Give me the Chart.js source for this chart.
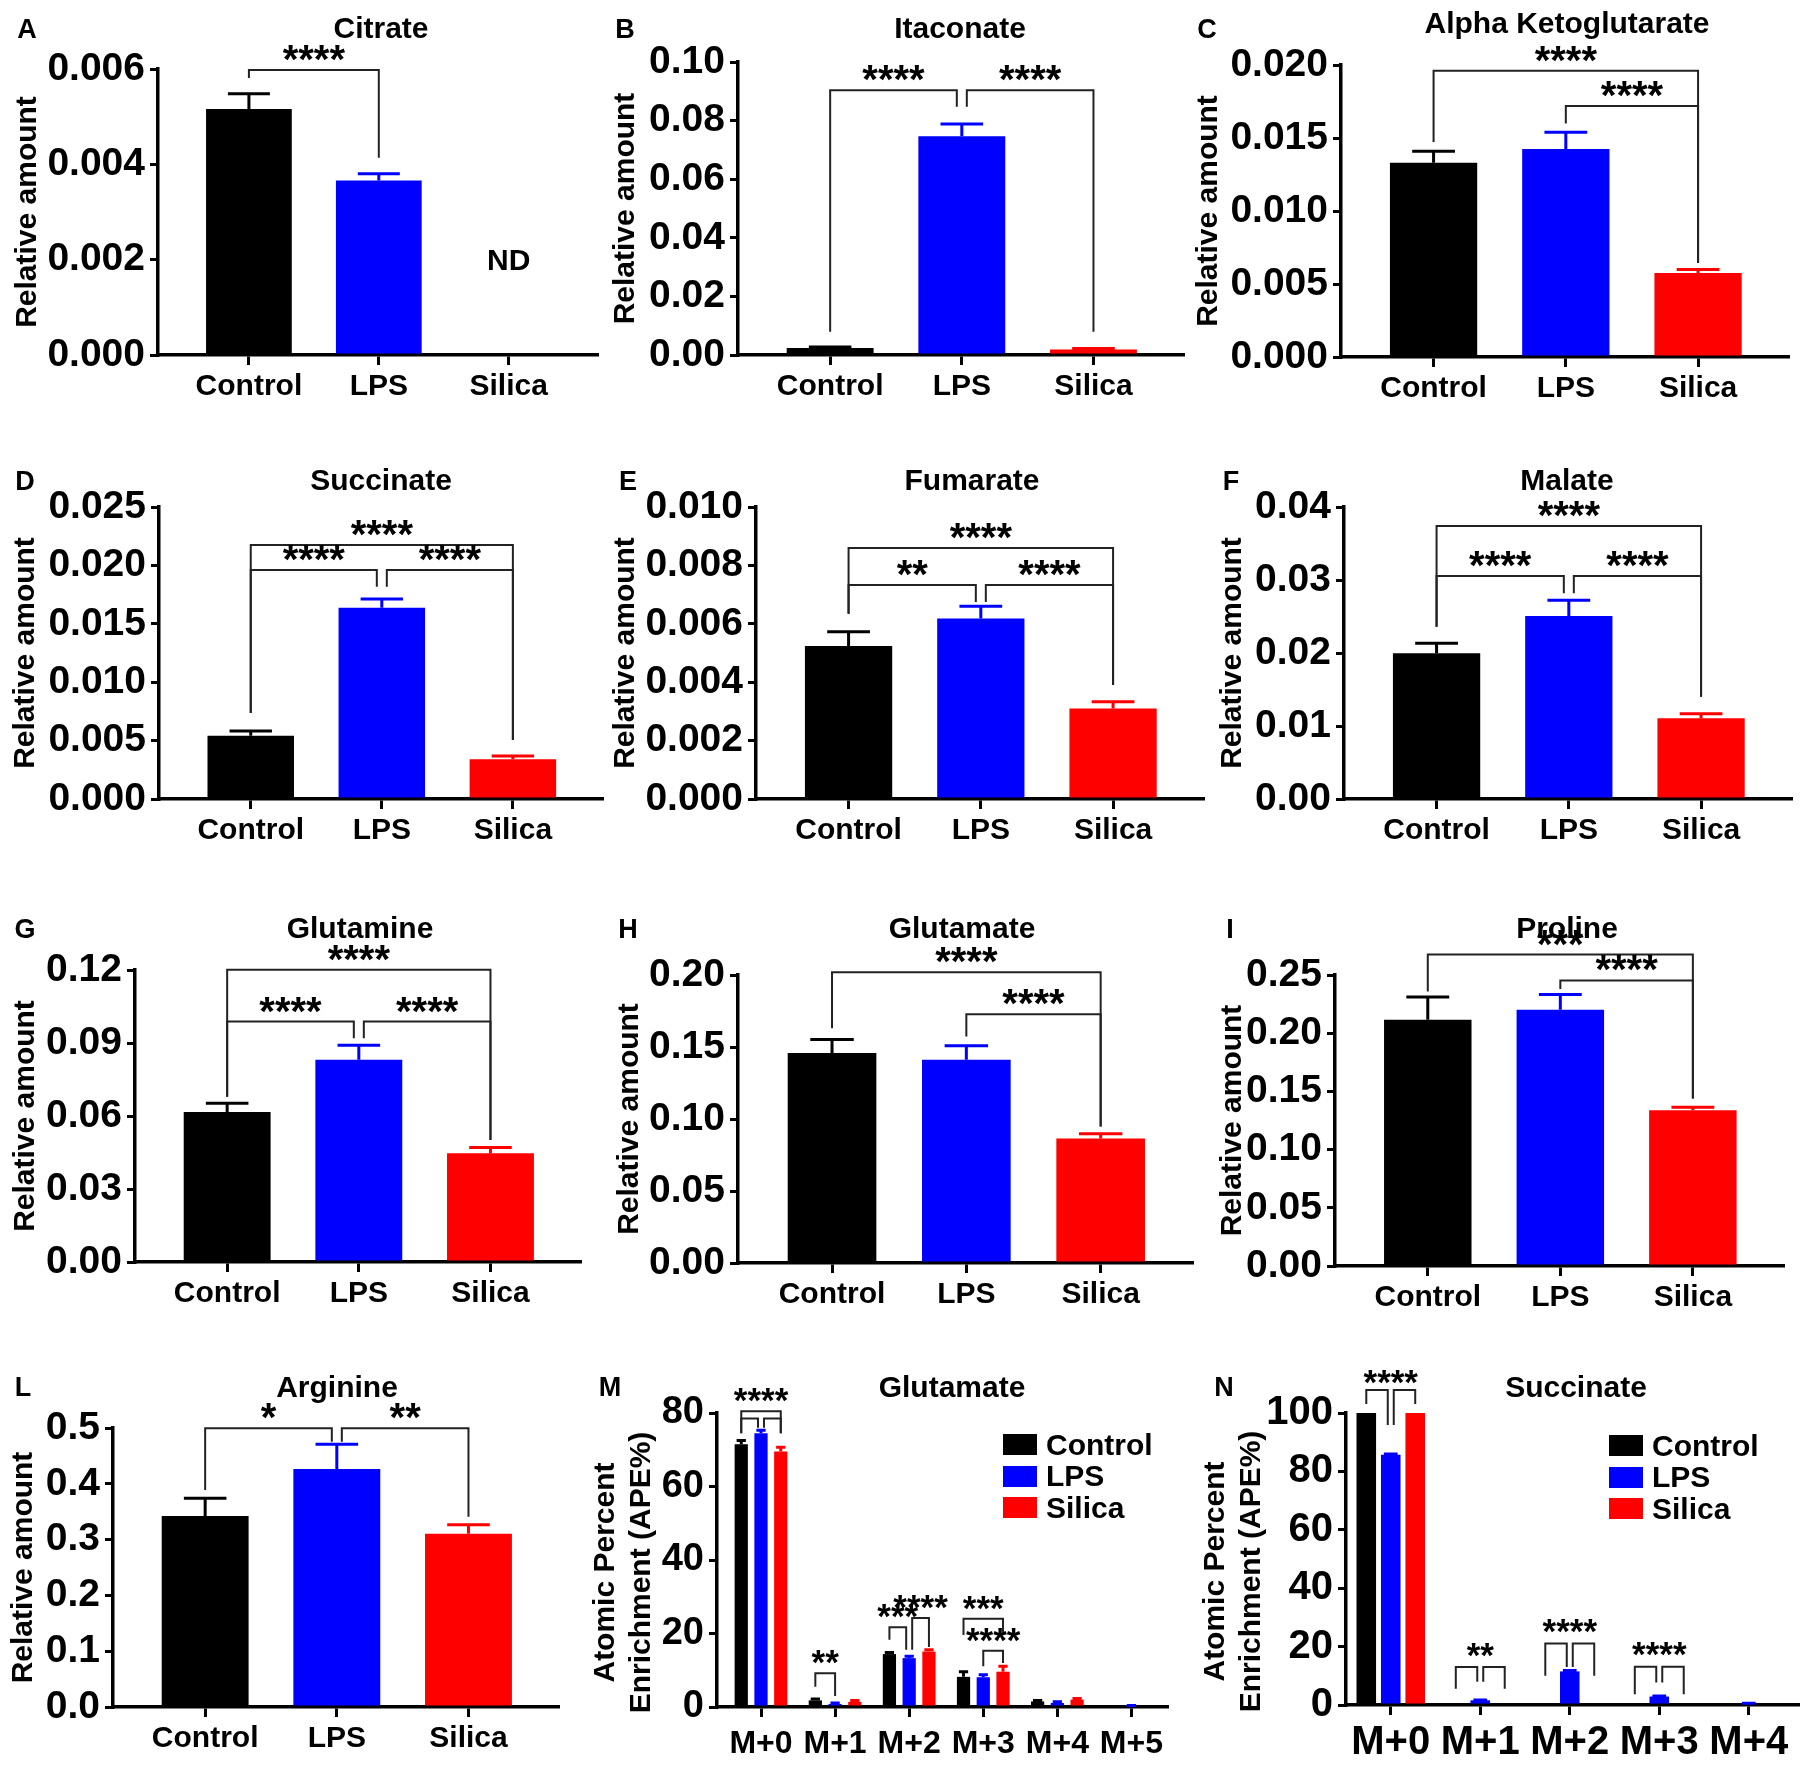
<!DOCTYPE html>
<html lang="en">
<head>
<meta charset="UTF-8" />
<title>Metabolites</title>
<script src="https://cdn.jsdelivr.net/npm/chart.js"></script>
<style>
  body { margin:0; width:1800px; height:1767px; position:relative; overflow:hidden; background:#fff;
         font-family:'Liberation Sans', Arial, Helvetica, sans-serif; color:#000; }
  canvas { position:absolute; }
  .lbl { position:absolute; font-weight:bold; transform:translate(-50%,-50%); white-space:nowrap; line-height:1; }
  .letter { font-size:27px; }
  .ttl { font-size:30px; }
  .legend { position:absolute; font-weight:bold; font-size:30px; line-height:1; }
  .legend div { display:flex; align-items:center; height:31.5px; }
  .legend .box { display:inline-block; width:34px; height:21px; margin-right:9px; }
</style>
</head>
<body>
<script>
// ---- data ----
const groups = ['Control', 'LPS', 'Silica'];
const gluIso = ['M+0', 'M+1', 'M+2', 'M+3', 'M+4', 'M+5'];
const sucIso = ['M+0', 'M+1', 'M+2', 'M+3', 'M+4'];

// brackets: [from, to, line y, left leg end, right leg end, stars]
const citrate = [0.00516, 0.00366, 0];
const citrateSem = [0.00032, 0.00014, 0];
const citrateSig = [[0, 1, 0.00598, 0.00581, 0.00414, '****']];
const citrateNotes = [[2, 0.002, 'ND']];

const itaconate = [0.0024, 0.0747, 0.0019];
const itaconateSem = [0.0003, 0.0041, 0.0003];
const itaconateSig = [[0, 1, 0.0904, 0.0079, 0.0847, '****'], [1, 2, 0.0904, 0.0847, 0.0079, '****']];

const akg = [0.0133, 0.01425, 0.00575];
const akgSem = [0.0008, 0.00115, 0.00025];
const akgSig = [[0, 2, 0.0196, 0.01473, 0.00644, '****'], [1, 2, 0.0172, 0.0160, 0.00644, '****']];

const succinate = [0.00542, 0.01638, 0.0034];
const succinateSem = [0.0004, 0.00074, 0.00028];
const succinateSig = [[0, 2, 0.02175, 0.00736, 0.00505, '****'], [0, 1, 0.0196, 0.00736, 0.01818, '****'], [1, 2, 0.0196, 0.01818, 0.00505, '****']];

const fumarate = [0.00524, 0.00618, 0.0031];
const fumarateSem = [0.00049, 0.00042, 0.00023];
const fumarateSig = [[0, 2, 0.0086, 0.00634, 0.0039, '****'], [0, 1, 0.00733, 0.00634, 0.00675, '**'], [1, 2, 0.00733, 0.00675, 0.0039, '****']];

const malate = [0.01996, 0.02507, 0.01105];
const malateSem = [0.00137, 0.00214, 0.00064];
const malateSig = [[0, 2, 0.0374, 0.0236, 0.014, '****'], [0, 1, 0.03055, 0.0236, 0.02818, '****'], [1, 2, 0.03055, 0.02818, 0.014, '****']];

const glutamine = [0.0616, 0.0831, 0.0447];
const glutamineSem = [0.0036, 0.006, 0.0024];
const glutamineSig = [[0, 2, 0.1201, 0.0679, 0.0501, '****'], [0, 1, 0.0988, 0.0679, 0.092, '****'], [1, 2, 0.0988, 0.092, 0.0501, '****']];

const glutamate = [0.1459, 0.1411, 0.0865];
const glutamateSem = [0.0093, 0.0097, 0.0032];
const glutamateSig = [[0, 2, 0.2019, 0.163, 0.0948, '****'], [1, 2, 0.1728, 0.1573, 0.0948, '****']];

const proline = [0.2116, 0.2202, 0.1338];
const prolineSem = [0.0194, 0.0131, 0.0026];
const prolineSig = [[0, 2, 0.2676, 0.2358, 0.1438, '***'], [1, 2, 0.2453, 0.238, 0.1438, '****']];

const arginine = [0.3423, 0.4265, 0.3106];
const arginineSem = [0.0317, 0.0443, 0.0162];
const arginineSig = [[0, 1, 0.4995, 0.389, 0.4755, '*'], [1, 2, 0.4995, 0.4755, 0.341, '**']];

// isotopologue brackets: [category, from series, to series, line y, left leg end, right leg end, stars]
const gluApeControl = [71.5, 1.8, 14.4, 8.2, 1.5, 0];
const gluApeLps = [74.5, 0.8, 13.3, 8.1, 1.1, 0.3];
const gluApeSilica = [69.5, 1.4, 15.1, 9.6, 2.0, 0];
const gluApeControlSem = [1.0, 0.4, 0.4, 1.4, 0.3, 0];
const gluApeLpsSem = [0.8, 0.3, 0.5, 0.7, 0.3, 0.1];
const gluApeSilicaSem = [1.2, 0.4, 0.5, 1.5, 0.3, 0];
const gluApeSig = [[0, 0, 2, 80.5, 74.5, 74.5, '****'], [0, 0, 1, 78.5, 74.5, 76, ''], [0, 1, 2, 78.5, 76, 74.5, ''],
  [1, 0, 1, 9.2, 5.5, 3.0, '**'], [2, 0, 1, 21.7, 18.3, 15.6, '***'], [2, 1, 2, 24.2, 15.6, 16.3, '****'],
  [3, 0, 2, 24.0, 19.6, 19.6, '***'], [3, 1, 2, 15.3, 11.1, 12.0, '****']];

const sucApeControl = [100, 0, 0, 0, 0];
const sucApeLps = [85.7, 1.6, 11.5, 2.9, 0.5];
const sucApeSilica = [100, 0, 0, 0, 0];
const sucApeControlSem = [0, 0, 0, 0, 0];
const sucApeLpsSem = [0.3, 0.1, 0.3, 0.2, 0.1];
const sucApeSilicaSem = [0, 0, 0, 0, 0];
const sucApeSig = [[0, 0, 1, 107.9, 103.1, 95.9, ''], [0, 1, 2, 107.9, 95.9, 103.1, ''],
  [1, 0, 1, 13, 5.6, 8, ''], [1, 1, 2, 13, 8, 5.6, ''], [2, 0, 1, 21.1, 10, 13, ''], [2, 1, 2, 21.1, 13, 10, ''],
  [3, 0, 1, 13.1, 3.7, 7.7, ''], [3, 1, 2, 13.1, 7.7, 3.7, '']];
const sucApeNotes = [[0, 1, 112.4, '****'], [1, 1, 18.9, '**'], [2, 1, 27.2, '****'], [3, 1, 19.2, '****']];

// ---- style ----
const FAM = "'Liberation Sans', Arial, Helvetica, sans-serif";
const colors = ['#000000', '#0000ff', '#ff0000'];
Chart.defaults.font.family = FAM;
Chart.defaults.color = '#000';

function same(a, b) { return a[0] === b[0] && a[1] === b[1]; }

function sigPlugin(brackets, notes, starPx, off, capRatio) {
  return {
    id: 'sig',
    afterDatasetsDraw(chart) {
      const ctx = chart.ctx, ys = chart.scales.y;
      chart.data.datasets.forEach((ds, d) => {
        chart.getDatasetMeta(d).data.forEach((bar, i) => {
          const e = ds.sem[i], v = ds.data[i].y;
          if (!e || !v) return;
          const top = ys.getPixelForValue(v + e);
          const cap = bar.width * capRatio;
          ctx.save();
          ctx.strokeStyle = Array.isArray(ds.backgroundColor) ? ds.backgroundColor[i] : ds.backgroundColor;
          ctx.lineWidth = 3;
          ctx.beginPath();
          ctx.moveTo(bar.x, bar.y); ctx.lineTo(bar.x, top);
          ctx.moveTo(bar.x - cap / 2, top); ctx.lineTo(bar.x + cap / 2, top);
          ctx.stroke();
          ctx.restore();
        });
      });
    },
    afterDraw(chart) {
      const ctx = chart.ctx, ys = chart.scales.y;
      const px = p => chart.getDatasetMeta(p[0]).data[p[1]].x;
      ctx.save();
      ctx.strokeStyle = '#222';
      ctx.lineWidth = 2;
      ctx.fillStyle = '#000';
      ctx.textAlign = 'center';
      brackets.forEach(b => {
        let x1 = px(b.p), x2 = px(b.q);
        if (brackets.some(o => o !== b && same(o.q, b.p))) x1 += off;
        if (brackets.some(o => o !== b && same(o.p, b.q))) x2 -= off;
        const yl = ys.getPixelForValue(b.y);
        ctx.beginPath();
        ctx.moveTo(x1, ys.getPixelForValue(b.l));
        ctx.lineTo(x1, yl); ctx.lineTo(x2, yl);
        ctx.lineTo(x2, ys.getPixelForValue(b.r));
        ctx.stroke();
        if (b.t) {
          ctx.font = 'bold ' + starPx + 'px ' + FAM;
          const m = ctx.measureText(b.t);
          ctx.fillText(b.t, (x1 + x2) / 2, yl - 9 - m.actualBoundingBoxDescent);
        }
      });
      notes.forEach(n => {
        ctx.font = /^\*+$/.test(n.t) ? 'bold ' + starPx + 'px ' + FAM : 'bold 30px ' + FAM;
        const m = ctx.measureText(n.t);
        const yc = ys.getPixelForValue(n.y);
        ctx.fillText(n.t, px(n.p), yc + (m.actualBoundingBoxAscent - m.actualBoundingBoxDescent) / 2);
      });
      ctx.restore();
    }
  };
}

function addLabel(cls, text, x, y) {
  const d = document.createElement('div');
  d.className = 'lbl ' + cls;
  d.textContent = text;
  d.style.left = x + 'px';
  d.style.top = y + 'px';
  document.body.appendChild(d);
}

function buildPanel(P) {
  const PT = 70, PR = 6, XH = 70;
  const L = P.L;
  const yw = L.ax - L.tx + 18;
  const w = yw + (L.end - L.ax) + PR, h = PT + (L.bot - L.top) + XH;
  const cv = document.createElement('canvas');
  cv.width = w; cv.height = h;
  cv.style.left = (L.ax - yw) + 'px';
  cv.style.top = (L.top - PT) + 'px';
  cv.style.width = w + 'px'; cv.style.height = h + 'px';
  document.body.appendChild(cv);
  addLabel('letter', P.letter, L.lx, L.ly);
  addLabel('ttl', P.title, L.ttx, L.tty);

  new Chart(cv, {
    type: 'bar',
    data: { datasets: P.datasets },
    options: {
      responsive: false,
      animation: false,
      layout: { padding: { top: PT, right: PR, left: 0, bottom: 0 } },
      plugins: { legend: { display: false }, tooltip: { enabled: false } },
      scales: {
        x: {
          type: 'linear', min: P.xr[0], max: P.xr[1], offset: false,
          afterBuildTicks: s => { s.ticks = P.cats.map((c, i) => ({ value: i })); },
          afterFit: s => { s.height = XH; },
          grid: { display: true, offset: false, drawOnChartArea: false, drawTicks: true, tickLength: 10, color: '#000', lineWidth: 3 },
          border: { display: true, color: '#000', width: 3.5 },
          ticks: { callback: v => P.cats[v], autoSkip: false, maxRotation: 0, padding: P.xPad, color: '#000',
                   font: { size: P.xFont, weight: 'bold' } }
        },
        y: {
          min: 0, max: P.max,
          afterFit: s => { s.width = yw; },
          grid: { drawOnChartArea: false, drawTicks: true, tickLength: 8, color: '#000', lineWidth: 3 },
          border: { display: true, color: '#000', width: 3.5 },
          ticks: { stepSize: P.step, callback: v => v.toFixed(P.dec), padding: 5, color: '#000',
                   font: { size: P.yFont, weight: 'bold' } },
          title: { display: true, text: P.yTitle, color: '#000', padding: 0, font: { size: 30, weight: 'bold' } }
        }
      }
    },
    plugins: [sigPlugin(P.brackets, P.notes, P.starPx, P.off, P.capRatio)]
  });
}

function simple(letter, title, vals, sem, sig, notes, max, step, dec, L) {
  buildPanel({
    letter, title, L, max, step, dec,
    cats: groups, xr: [-0.7, 2.68], xFont: 30, xPad: 4, yFont: 39, starPx: 40, off: 5, capRatio: 0.49,
    yTitle: 'Relative amount',
    datasets: [{ data: vals.map((v, i) => ({ x: i, y: v })), sem, backgroundColor: colors,
                 barPercentage: 0.66, categoryPercentage: 1 }],
    brackets: sig.map(b => ({ p: [0, b[0]], q: [0, b[1]], y: b[2], l: b[3], r: b[4], t: b[5] })),
    notes: (notes || []).map(n => ({ p: [0, n[0]], y: n[1], t: n[2] }))
  });
}

// trailing no-break spaces nudge the centred axis title down, as in the figure
const apeTitle = ['Atomic Percent\u00a0\u00a0\u00a0', 'Enrichment (APE%)\u00a0\u00a0\u00a0'];

function grouped(letter, title, cats, series, sems, sig, notes, max, step, L, xr, xFont, xPad, yFont, bp, cp) {
  buildPanel({
    letter, title, L, max, step, dec: 0, cats, xr, xFont, xPad, yFont, starPx: 35, off: 3, capRatio: 0.7,
    yTitle: apeTitle,
    datasets: series.map((s, k) => ({ label: groups[k], data: s.map((v, i) => ({ x: i, y: v })), sem: sems[k],
                 backgroundColor: colors[k], barPercentage: bp, categoryPercentage: cp })),
    brackets: sig.map(b => ({ p: [b[1], b[0]], q: [b[2], b[0]], y: b[3], l: b[4], r: b[5], t: b[6] })),
    notes: (notes || []).map(n => ({ p: [n[1], n[0]], y: n[2], t: n[3] }))
  });
}

simple('A', 'Citrate', citrate, citrateSem, citrateSig, citrateNotes, 0.006, 0.002, 3,
  { ax: 158, end: 597, top: 69, bot: 355, tx: 28, lx: 27, ly: 29, ttx: 381, tty: 28 });
simple('B', 'Itaconate', itaconate, itaconateSem, itaconateSig, null, 0.10, 0.02, 2,
  { ax: 738, end: 1183, top: 62, bot: 355, tx: 626, lx: 625, ly: 29, ttx: 960, tty: 28 });
simple('C', 'Alpha Ketoglutarate', akg, akgSem, akgSig, null, 0.020, 0.005, 3,
  { ax: 1341, end: 1788, top: 65, bot: 357, tx: 1209, lx: 1207, ly: 29, ttx: 1567, tty: 23 });
simple('D', 'Succinate', succinate, succinateSem, succinateSig, null, 0.025, 0.005, 3,
  { ax: 159, end: 602, top: 507, bot: 799, tx: 26, lx: 25, ly: 481, ttx: 381, tty: 480 });
simple('E', 'Fumarate', fumarate, fumarateSem, fumarateSig, null, 0.010, 0.002, 3,
  { ax: 756, end: 1203, top: 507, bot: 799, tx: 626, lx: 628, ly: 481, ttx: 972, tty: 480 });
simple('F', 'Malate', malate, malateSem, malateSig, null, 0.04, 0.01, 2,
  { ax: 1344, end: 1791, top: 507, bot: 799, tx: 1233, lx: 1231, ly: 481, ttx: 1567, tty: 480 });
simple('G', 'Glutamine', glutamine, glutamineSem, glutamineSig, null, 0.12, 0.03, 2,
  { ax: 135, end: 580, top: 970, bot: 1262, tx: 26, lx: 25, ly: 929, ttx: 360, tty: 928 });
simple('H', 'Glutamate', glutamate, glutamateSem, glutamateSig, null, 0.20, 0.05, 2,
  { ax: 738, end: 1192, top: 975, bot: 1263, tx: 630, lx: 628, ly: 929, ttx: 962, tty: 928 });
simple('I', 'Proline', proline, prolineSem, prolineSig, null, 0.25, 0.05, 2,
  { ax: 1335, end: 1783, top: 975, bot: 1266, tx: 1233, lx: 1230, ly: 929, ttx: 1567, tty: 928 });
simple('L', 'Arginine', arginine, arginineSem, arginineSig, null, 0.5, 0.1, 1,
  { ax: 113, end: 558, top: 1428, bot: 1707, tx: 24, lx: 23, ly: 1387, ttx: 337, tty: 1387 });

grouped('M', 'Glutamate', gluIso, [gluApeControl, gluApeLps, gluApeSilica],
  [gluApeControlSem, gluApeLpsSem, gluApeSilicaSem], gluApeSig, null, 80, 20,
  { ax: 717, end: 1167, top: 1413, bot: 1707, tx: 606, lx: 610, ly: 1387, ttx: 952, tty: 1387 },
  [-0.594, 5.48], 32, 8, 38, 0.67, 0.8);
grouped('N', 'Succinate', sucIso, [sucApeControl, sucApeLps, sucApeSilica],
  [sucApeControlSem, sucApeLpsSem, sucApeSilicaSem], sucApeSig, sucApeNotes, 100, 20,
  { ax: 1346, end: 1798, top: 1413, bot: 1705, tx: 1216, lx: 1224, ly: 1387, ttx: 1576, tty: 1387 },
  [-0.5, 4.55], 40, 4, 40, 0.8, 0.82);

// legends
function legend(x, y) {
  const box = document.createElement('div');
  box.className = 'legend';
  box.style.left = x + 'px';
  box.style.top = y + 'px';
  groups.forEach((g, k) => {
    const row = document.createElement('div');
    const sw = document.createElement('span');
    sw.className = 'box';
    sw.style.background = colors[k];
    row.appendChild(sw);
    row.appendChild(document.createTextNode(g));
    box.appendChild(row);
  });
  document.body.appendChild(box);
}
legend(1003, 1429);
legend(1609, 1430);
</script>
</body>
</html>
